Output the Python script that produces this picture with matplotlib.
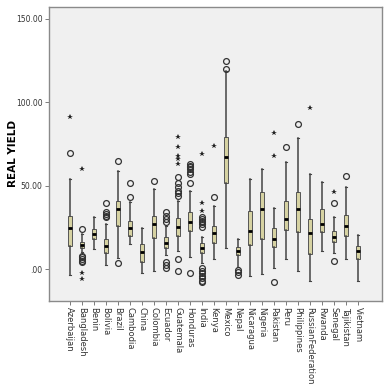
import matplotlib
matplotlib.use("Agg")
import matplotlib.pyplot as plt

countries = ["Azerbaijan", "Bangladesh", "Benin", "Bolivia", "Brazil", "Cambodia",
             "China", "Colombia", "Ecuador", "Guatemala", "Honduras", "India",
             "Kenya", "Mexico", "Nepal", "Nicaragua", "Nigeria", "Pakistan",
             "Peru", "Philippines", "RussianFederation", "Rwanda", "Senegal",
             "Tajikistan", "Vietnam"]

whislo = [-3.6, 10.5, 12, 2.4, 6.6, 15, -2.4, -1.2, 8.4, 11, 7, 3.6, 6, 12.6,
          1.2, -4.2, -3, 0.5, 6, -1.2, -7.2, 10.8, 9.6, 6, -7.2]
q1 = [14, 12.6, 18, 9.6, 26, 19.8, 4.2, 18.6, 12.6, 20, 23, 9.6, 15.6, 51.5,
      8.4, 14.4, 18, 13, 23.4, 22, 9, 22, 16, 19.8, 6]
med = [24.5, 14.4, 21, 14, 36, 24.5, 10, 27, 15.6, 25, 28, 12.6, 21.6, 67,
       10.8, 22.8, 36, 18, 30, 36, 21.6, 27, 19, 25.7, 10.8]
q3 = [32, 16, 24, 18, 40.7, 28.7, 15, 31.7, 19, 30.5, 34, 15.6, 25.7, 79,
      13, 34.7, 46, 24.5, 40.7, 46, 30, 36, 22.8, 32.3, 13.8]
whishi = [54, 21, 31, 27, 58.7, 40, 24.5, 48, 25.7, 41, 47, 19, 37.7, 118.6,
          18, 54, 60, 36.5, 64, 78.4, 57, 52, 31, 49, 20.4]

out_circle = [[69.5], [24, 8, 7, 6, 5, 4], [], [39.5, 34, 33, 32, 31], [64.7, 3.6],
              [51.5, 43], [], [52.7], [34, 32, 30, 28, 4.2, 2.5, 0.6],
              [55, 51.5, 49, 47, 45.5, 44, 6, -1.2],
              [63, 62, 61, 60, 58, 57, 51.5, -2.4],
              [31, 30, 29, 28, 27, 25, 0.6, -1, -2.5, -4, -5.5, -7, -7.8],
              [43], [124.5, 120], [-0.6, -2, -3.6], [], [], [-7.8], [73], [86.8],
              [], [], [39.5, 4.8], [55.7], []]
out_star = [[91], [60, -2.4, -6], [], [], [], [], [], [], [],
            [79, 73, 67.7, 66, 63], [], [69, 39.5, 34.7], [73.6], [], [], [], [],
            [81.6, 68], [], [], [96.4], [], [46], [], []]

yticks = [0, 50, 100, 150]
ytick_labels = [".00", "50.00", "100.00", "150.00"]

fig = plt.figure(figsize=(3.91, 3.84), dpi=100)
ax = fig.add_axes([0.125, 0.216, 0.852, 0.766])
ax.set_facecolor("#f0f0f0")

stats = []
for i in range(len(countries)):
    stats.append({"whislo": whislo[i], "q1": q1[i], "med": med[i],
                  "q3": q3[i], "whishi": whishi[i], "fliers": []})

pos = list(range(len(countries)))
ax.bxp(stats, positions=pos, widths=0.38, patch_artist=True, showfliers=False,
       boxprops=dict(facecolor="#d6d2a2", edgecolor="#555555", linewidth=0.7),
       whiskerprops=dict(color="#444444", linewidth=1.1),
       capprops=dict(color="#444444", linewidth=0.8),
       medianprops=dict(color="black", linewidth=2.0),
       capwidths=0.15)

for i in pos:
    if out_circle[i]:
        ax.plot([i] * len(out_circle[i]), out_circle[i], "o", ms=4.2,
                mfc="none", mec="#333333", mew=0.9)
    if out_star[i]:
        ax.plot([i] * len(out_star[i]), out_star[i], "*", ms=4,
                color="#222222", mew=0)

ax.set_xlim(-1.75, 26)
ax.set_ylim(-19.2, 157.2)
ax.set_yticks(yticks)
ax.set_yticklabels(ytick_labels, fontsize=5.5, color="#333333")
ax.set_xticks(pos)
ax.set_xticklabels(countries, rotation=-90, fontsize=6, color="#333333")
ax.tick_params(axis="both", length=3, width=0.6, color="#666666", pad=1.5)
ax.set_ylabel("REAL YIELD", fontsize=7.5, fontweight="bold")
ax.yaxis.set_label_coords(-0.093, 0.5)

for s in ax.spines.values():
    s.set_color("#8a8a8a")
    s.set_linewidth(1.0)

fig.savefig("out.png", dpi=100)
